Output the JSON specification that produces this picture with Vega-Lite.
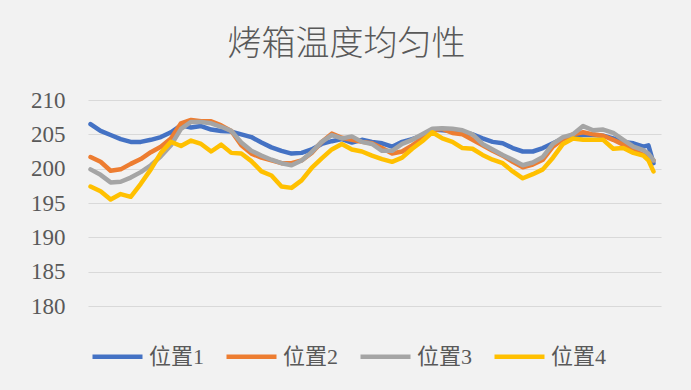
{
  "$schema": "https://vega.github.io/schema/vega-lite/v6.json",
  "width": 573,
  "height": 206,
  "autosize": {"type": "none"},
  "padding": {"left": 88, "top": 100, "right": 30, "bottom": 84},
  "background": "#f2f2f2",
  "title": {"text": "烤箱温度均匀性", "fontSize": 34, "font": "Noto Sans CJK SC", "fontWeight": 300, "color": "#595959", "anchor": "middle", "dx": -28, "offset": 27},
  "data": {"values": [
    {"t": 0, "位置1": 206.5, "位置2": 201.7, "位置3": 199.9, "位置4": 197.4},
    {"t": 2, "位置1": 205.5, "位置2": 201.0, "位置3": 199.1, "位置4": 196.7},
    {"t": 4, "位置1": 204.9, "位置2": 199.7, "位置3": 198.0, "位置4": 195.5},
    {"t": 6, "位置1": 204.3, "位置2": 199.9, "位置3": 198.1, "位置4": 196.3},
    {"t": 8, "位置1": 203.9, "位置2": 200.7, "位置3": 198.7, "位置4": 195.9},
    {"t": 10, "位置1": 203.9, "位置2": 201.4, "位置3": 199.5, "位置4": 197.8},
    {"t": 12, "位置1": 204.2, "位置2": 202.4, "位置3": 200.5, "位置4": 199.9},
    {"t": 14, "位置1": 204.6, "位置2": 203.2, "位置3": 201.8, "位置4": 202.3},
    {"t": 16, "位置1": 205.3, "位置2": 204.4, "位置3": 203.4, "位置4": 203.9},
    {"t": 18, "位置1": 206.3, "位置2": 206.6, "位置3": 205.8, "位置4": 203.3},
    {"t": 20, "位置1": 206.0, "位置2": 207.1, "位置3": 206.8, "位置4": 204.1},
    {"t": 22, "位置1": 206.2, "位置2": 206.9, "位置3": 206.8, "位置4": 203.6},
    {"t": 24, "位置1": 205.7, "位置2": 206.9, "位置3": 206.6, "位置4": 202.5},
    {"t": 26, "位置1": 205.5, "位置2": 206.3, "位置3": 206.1, "位置4": 203.5},
    {"t": 28, "位置1": 205.4, "位置2": 205.5, "位置3": 205.5, "位置4": 202.3},
    {"t": 30, "位置1": 205.0, "位置2": 203.4, "位置3": 203.8, "位置4": 202.2},
    {"t": 32, "位置1": 204.6, "位置2": 202.2, "位置3": 202.6, "位置4": 201.1},
    {"t": 34, "位置1": 203.8, "位置2": 201.6, "位置3": 201.9, "位置4": 199.6},
    {"t": 36, "位置1": 203.1, "位置2": 201.2, "位置3": 201.3, "位置4": 199.0},
    {"t": 38, "位置1": 202.6, "位置2": 200.8, "位置3": 200.8, "位置4": 197.4},
    {"t": 40, "位置1": 202.2, "位置2": 200.8, "位置3": 200.5, "位置4": 197.2},
    {"t": 42, "位置1": 202.3, "位置2": 201.2, "位置3": 201.2, "位置4": 198.3},
    {"t": 44, "位置1": 202.8, "位置2": 202.3, "位置3": 202.4, "位置4": 200.1},
    {"t": 46, "位置1": 203.6, "位置2": 203.9, "位置3": 203.9, "位置4": 201.5},
    {"t": 48, "位置1": 204.0, "位置2": 205.1, "位置3": 204.9, "位置4": 202.8},
    {"t": 50, "位置1": 204.3, "位置2": 204.5, "位置3": 204.4, "位置4": 203.6},
    {"t": 52, "位置1": 203.8, "位置2": 204.2, "位置3": 204.7, "位置4": 202.8},
    {"t": 54, "位置1": 204.2, "位置2": 203.9, "位置3": 203.9, "位置4": 202.5},
    {"t": 56, "位置1": 203.9, "位置2": 203.7, "位置3": 203.6, "位置4": 201.9},
    {"t": 58, "位置1": 203.7, "位置2": 203.0, "位置3": 202.6, "位置4": 201.4},
    {"t": 60, "位置1": 203.2, "位置2": 202.2, "位置3": 202.6, "位置4": 201.0},
    {"t": 62, "位置1": 203.9, "位置2": 202.5, "位置3": 203.6, "位置4": 201.6},
    {"t": 64, "位置1": 204.3, "位置2": 203.4, "位置3": 204.2, "位置4": 202.9},
    {"t": 66, "位置1": 204.8, "位置2": 204.4, "位置3": 205.0, "位置4": 204.0},
    {"t": 68, "位置1": 205.7, "位置2": 205.6, "位置3": 205.8, "位置4": 205.3},
    {"t": 70, "位置1": 205.6, "位置2": 205.8, "位置3": 205.9, "位置4": 204.4},
    {"t": 72, "位置1": 205.5, "位置2": 205.2, "位置3": 205.8, "位置4": 203.9},
    {"t": 74, "位置1": 205.4, "位置2": 205.0, "位置3": 205.6, "位置4": 203.0},
    {"t": 76, "位置1": 205.0, "位置2": 204.2, "位置3": 205.0, "位置4": 202.9},
    {"t": 78, "位置1": 204.4, "位置2": 203.4, "位置3": 203.6, "位置4": 202.0},
    {"t": 80, "位置1": 203.9, "位置2": 202.6, "位置3": 202.8, "位置4": 201.3},
    {"t": 82, "位置1": 203.7, "位置2": 201.9, "位置3": 202.0, "位置4": 200.8},
    {"t": 84, "位置1": 203.0, "位置2": 201.0, "位置3": 201.3, "位置4": 199.6},
    {"t": 86, "位置1": 202.5, "位置2": 200.2, "位置3": 200.5, "位置4": 198.6},
    {"t": 88, "位置1": 202.5, "位置2": 200.6, "位置3": 200.9, "位置4": 199.2},
    {"t": 90, "位置1": 203.0, "位置2": 201.3, "位置3": 201.7, "位置4": 199.9},
    {"t": 92, "位置1": 203.7, "位置2": 203.2, "位置3": 203.6, "位置4": 201.6},
    {"t": 94, "位置1": 204.4, "位置2": 204.3, "位置3": 204.6, "位置4": 203.6},
    {"t": 96, "位置1": 204.7, "位置2": 205.0, "位置3": 205.0, "位置4": 204.4},
    {"t": 98, "位置1": 204.9, "位置2": 205.3, "位置3": 206.2, "位置4": 204.2},
    {"t": 100, "位置1": 204.9, "位置2": 205.0, "位置3": 205.6, "位置4": 204.2},
    {"t": 102, "位置1": 204.8, "位置2": 204.8, "位置3": 205.7, "位置4": 204.2},
    {"t": 104, "位置1": 204.4, "位置2": 204.2, "位置3": 205.2, "位置4": 202.9},
    {"t": 106, "位置1": 203.9, "位置2": 203.5, "位置3": 204.2, "位置4": 203.0},
    {"t": 108, "位置1": 203.7, "位置2": 202.7, "位置3": 203.2, "位置4": 202.3},
    {"t": 110, "位置1": 203.2, "位置2": 202.0, "位置3": 202.7, "位置4": 201.9},
    {"t": 111, "位置1": 203.4, "位置2": 201.7, "位置3": 202.2, "位置4": 201.2},
    {"t": 112, "位置1": 200.8, "位置2": 201.2, "位置3": 201.2, "位置4": 199.6}
  ]},
  "transform": [{"fold": ["位置1", "位置2", "位置3", "位置4"], "as": ["series", "value"]}],
  "mark": {"type": "line", "strokeWidth": 4.5, "strokeCap": "round", "strokeJoin": "round"},
  "encoding": {
    "x": {"field": "t", "type": "quantitative", "scale": {"domain": [-0.5, 113.5], "nice": false, "zero": false}, "axis": null},
    "y": {"field": "value", "type": "quantitative", "scale": {"domain": [180, 210], "nice": false, "zero": false},
      "axis": {"values": [180, 185, 190, 195, 200, 205, 210], "title": null, "domain": false, "ticks": false,
        "labelFont": "Liberation Serif", "labelFontSize": 23, "labelColor": "#595959", "labelPadding": 23,
        "gridColor": "#d9d9d9", "gridWidth": 1}},
    "color": {"field": "series", "type": "nominal",
      "scale": {"domain": ["位置1", "位置2", "位置3", "位置4"], "range": ["#4472C4", "#ED7D31", "#A5A5A5", "#FFC000"]},
      "legend": {"title": null, "orient": "none", "direction": "horizontal", "legendX": 2, "legendY": 229,
        "symbolType": "stroke", "symbolSize": 2500, "symbolStrokeWidth": 4.5,
        "labelFont": "Liberation Serif, Noto Sans CJK SC", "labelFontSize": 22, "labelColor": "#595959",
        "labelOffset": 4, "columnPadding": 12}}
  },
  "config": {"view": {"stroke": null}}
}
